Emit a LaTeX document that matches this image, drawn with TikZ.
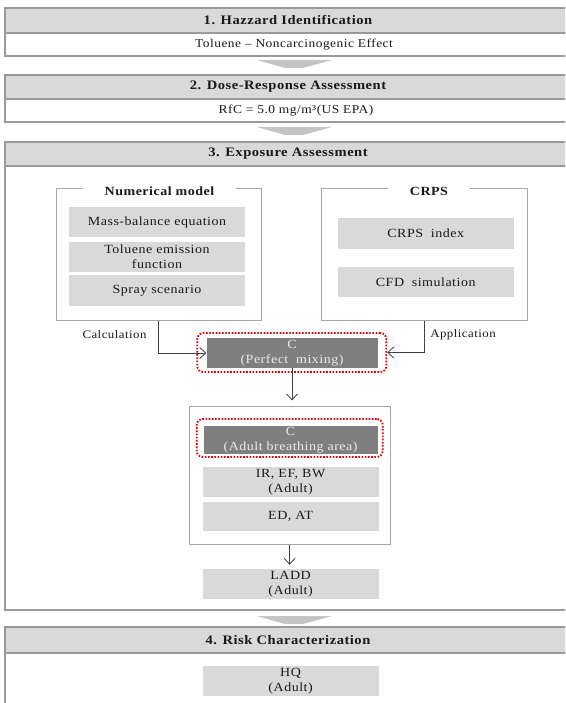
\documentclass[tikz,border=0pt]{standalone}
\usepackage{fontspec}
\setmainfont{Liberation Serif}[FakeStretch=1.12,LetterSpace=4]
\usetikzlibrary{arrows.meta}
\definecolor{hdrfill}{HTML}{D9D9D9}
\definecolor{hdrline}{HTML}{9A9A9A}
\definecolor{boxfill}{HTML}{D9D9D9}
\definecolor{darkfill}{HTML}{7F7F7F}
\definecolor{frameline}{HTML}{A6A6A6}
\definecolor{connline}{HTML}{404040}
\definecolor{chevfill}{HTML}{C4C4C4}
\definecolor{dotred}{HTML}{E00000}
\definecolor{txt}{HTML}{1A1A1A}
\begin{document}
\begin{tikzpicture}[x=1pt,y=-1pt,
 secbody/.style={draw=hdrline, line width=1.5pt, fill=white, inner sep=0pt, minimum width=580pt},
 sechead/.style={draw=hdrline, line width=1.5pt, fill=hdrfill, inner sep=0pt, minimum width=580pt},
 headtext/.style={font=\fontsize{13}{15}\selectfont\bfseries, text=txt, inner sep=0pt},
 bodytext/.style={font=\fontsize{12}{14}\selectfont, text=txt, inner sep=0pt},
 frame/.style={draw=frameline, line width=1pt, inner sep=0pt},
 frametitle/.style={fill=white, inner xsep=22pt, inner ysep=1pt, font=\fontsize{12.5}{14}\selectfont\bfseries, text=txt},
 graybox/.style={fill=boxfill, inner sep=0pt, align=center, font=\fontsize{12.5}{15}\selectfont, text=txt, minimum width=176pt, minimum height=30pt},
 darkbox/.style={fill=darkfill, inner sep=0pt, align=center, font=\fontsize{12.5}{15.5}\selectfont, text=white!92!black},
 redring/.style={draw=dotred, line width=1.8pt, dash pattern=on 1.6pt off 1.6pt, rounded corners=6pt, inner sep=0pt},
 conn/.style={draw=connline, line width=0.8pt, -{Straight Barb[length=6pt,width=11pt]}},
 lbl/.style={font=\fontsize{11.5}{13}\selectfont, text=txt, inner sep=0pt},
 chev/.style={fill=chevfill}]
\useasboundingbox (0,0) rectangle (565,703);
\clip (0,0) rectangle (565,703);

% Section 1
\node[secbody, minimum height=23pt] (b1) at (295,44.5) {};
\node[sechead, minimum height=25pt] (h1) at (295,20.5) {};
\node[headtext] (t1) at (288,20.5) {1. Hazzard Identification};
\node[bodytext] (c1) at (294,44.5) {Toluene -- Noncarcinogenic Effect};
\fill[chev] (257,60) -- (332,60) -- (303,68) -- (285,68) -- cycle;

% Section 2
\node[secbody, minimum height=23pt] (b2) at (295,110.5) {};
\node[sechead, minimum height=24pt] (h2) at (295,87) {};
\node[headtext] (t2) at (288,87) {2. Dose-Response Assessment};
\node[bodytext] (c2) at (296,110.5) {RfC = 5.0 mg/m³(US EPA)};
\fill[chev] (257,127) -- (332,127) -- (303,135) -- (285,135) -- cycle;

% Section 3
\node[secbody, minimum height=444pt] (b3) at (295,388) {};
\node[sechead, minimum height=24pt] (h3) at (295,154) {};
\node[headtext] (t3) at (288,154) {3. Exposure Assessment};

\node[frame, minimum width=205pt, minimum height=131pt] (nm) at (158.5,254.5) {};
\node[frametitle] (nmt) at (159.5,191) {Numerical model};
\node[graybox] (mb) at (157,222) {Mass-balance equation};
\node[graybox] (te) at (157,257) {Toluene emission\\function};
\node[graybox, minimum height=31pt] (sp) at (157,290.5) {Spray scenario};

\node[frame, minimum width=206pt, minimum height=131pt] (crps) at (424.6,254.5) {};
\node[frametitle] (crpst) at (429,191) {CRPS};
\node[graybox, minimum height=31pt] (ci) at (425.7,233.5) {CRPS\hspace{0.3em} index};
\node[graybox] (cfd) at (425.7,282) {CFD\hspace{0.3em} simulation};

\node[redring, minimum width=189pt, minimum height=39pt] (pmr) at (291.8,352.5) {};
\node[darkbox, minimum width=171pt, minimum height=30pt] (pm) at (292,353) {C\\(Perfect\hspace{0.3em} mixing)};

\node[lbl] (calc) at (114.5,335) {Calculation};
\node[lbl] (appl) at (463,335) {Application};

\draw[conn] (nm.south) |- (pm.west);
\draw[conn] (crps.south) |- (pmr.east);

\node[frame, minimum width=201pt, minimum height=138pt] (cont) at (289.6,475) {};
\node[redring, minimum width=186pt, minimum height=38pt] (abr) at (289.7,438) {};
\node[darkbox, minimum width=174pt, minimum height=28pt] (ab) at (290.6,440) {C\\(Adult breathing area)};
\node[graybox] (ir) at (290.6,482) {IR, EF, BW\\(Adult)};
\node[graybox, minimum height=29pt] (ed) at (290.6,516.5) {ED, AT};

\draw[conn, shorten >=5pt] (pm.south) -- (pm.south |- cont.north);

\node[graybox] (ladd) at (290.6,584) {LADD\\(Adult)};
\draw[conn, shorten >=4pt] (cont.south) -- (cont.south |- ladd.north);

\fill[chev] (257,616) -- (332,616) -- (303,624) -- (285,624) -- cycle;

% Section 4
\node[secbody, minimum height=67pt] (b4) at (295,686.5) {};
\node[sechead, minimum height=26pt] (h4) at (295,640) {};
\node[headtext] (t4) at (288,640) {4. Risk Characterization};
\node[graybox] (hq) at (290.6,681) {HQ\\(Adult)};
\end{tikzpicture}
\end{document}
